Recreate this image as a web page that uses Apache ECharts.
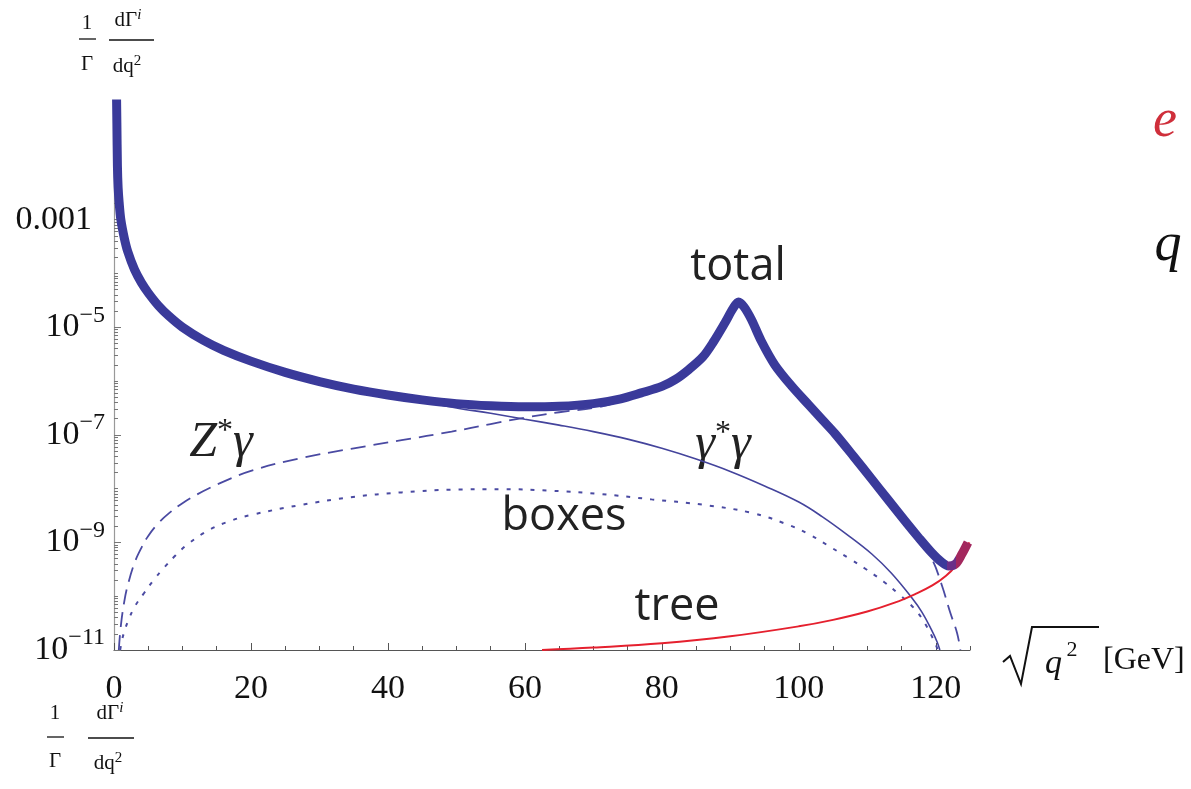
<!DOCTYPE html>
<html>
<head>
<meta charset="utf-8">
<script src="https://cdn.jsdelivr.net/npm/echarts@6/dist/echarts.min.js"></script>
<style>html,body{margin:0;padding:0;background:#fff}#c{width:1191px;height:789px}</style>
</head>
<body>
<div id="c"></div>
<script>
// ---- data: [sqrt(q^2) in GeV, log10 of (1/Gamma dGamma/dq^2)] ----
const total = [[0.3,0],[0.42,-1.2],[0.5,-2.0],[0.6,-2.4],[0.75,-2.68],[1.0,-3.0],[1.5,-3.34],[2.0,-3.59],[3.0,-3.93],[4.0,-4.17],[5.0,-4.36],[6.5,-4.6],[8,-4.79],[10,-5.0],[13,-5.24],[16,-5.43],[20,-5.63],[25,-5.84],[30,-6.01],[35,-6.15],[40,-6.26],[45,-6.35],[50,-6.42],[55,-6.46],[60,-6.48],[65,-6.47],[70,-6.42],[74,-6.33],[77,-6.22],[80,-6.1],[82,-5.97],[84,-5.78],[86,-5.55],[87.5,-5.28],[89.2,-4.92],[90.4,-4.65],[91.2,-4.53],[92.0,-4.62],[93.1,-4.86],[94.5,-5.25],[96.5,-5.7],[99,-6.1],[101.5,-6.45],[103.5,-6.73],[105.3,-6.98],[108,-7.4],[110.7,-7.83],[113,-8.2],[115.5,-8.6],[117.5,-8.91],[119.4,-9.19],[120.8,-9.36],[121.9,-9.44],[122.9,-9.4],[123.8,-9.22],[124.7,-9.0]];
const gammaGamma = [[0.3,0],[0.42,-1.2],[0.5,-2.0],[0.6,-2.4],[0.75,-2.68],[1.0,-3.0],[1.5,-3.34],[2.0,-3.59],[3.0,-3.93],[4.0,-4.17],[5.0,-4.36],[6.5,-4.6],[8,-4.79],[10,-5.0],[13,-5.24],[16,-5.43],[20,-5.63],[25,-5.84],[30,-6.01],[35,-6.15],[40,-6.27],[45,-6.38],[50,-6.5],[55,-6.6],[60,-6.71],[65,-6.82],[70,-6.94],[75,-7.08],[80,-7.25],[85,-7.45],[90,-7.68],[95,-7.95],[100,-8.25],[103.4,-8.52],[107,-8.85],[110.7,-9.22],[113.5,-9.57],[116.5,-10.03],[118,-10.3],[119.4,-10.63],[120.2,-10.85],[120.6,-11.0]];
const zGamma = [[0.7,-11.0],[1.0,-10.55],[1.5,-10.1],[2.0,-9.8],[3.0,-9.38],[4.0,-9.1],[5.0,-8.88],[6.5,-8.64],[8.0,-8.46],[10,-8.27],[13,-8.05],[16,-7.87],[20,-7.67],[27,-7.44],[34.6,-7.26],[42,-7.1],[49.3,-6.94],[55,-6.8],[60,-6.68],[65,-6.58],[71,-6.48],[74,-6.37],[77,-6.26],[80,-6.13],[84,-5.8],[86,-5.57],[87.5,-5.3],[89.2,-4.95],[90.4,-4.68],[91.2,-4.56],[92,-4.65],[93.1,-4.89],[94.5,-5.28],[96.5,-5.73],[99,-6.13],[101.5,-6.48],[103.5,-6.76],[105.3,-7.01],[108,-7.43],[110.7,-7.86],[113,-8.23],[115.5,-8.64],[117.5,-8.96],[119.4,-9.3],[120.9,-9.8],[122.1,-10.3],[123.1,-10.68],[123.6,-11.0]];
const boxes = [[0.9,-11.0],[1.2,-10.8],[1.6,-10.62],[2.0,-10.48],[3.0,-10.2],[4.4,-9.94],[5.8,-9.7],[7.3,-9.47],[9,-9.24],[10.8,-9.03],[14,-8.76],[17,-8.6],[20,-8.49],[27,-8.31],[34.6,-8.16],[42,-8.07],[49.3,-8.02],[56.6,-8.01],[63.9,-8.04],[71,-8.1],[78.5,-8.2],[86,-8.3],[93.1,-8.45],[98,-8.65],[101.5,-8.85],[104.8,-9.1],[107.5,-9.31],[109.6,-9.48],[112.4,-9.73],[114.6,-9.96],[116.8,-10.22],[118.4,-10.5],[119.9,-10.87],[120.3,-11.0]];
const tree = [[62.5,-11.0],[70,-10.955],[80,-10.875],[90,-10.745],[100,-10.56],[105,-10.44],[110,-10.285],[114,-10.12],[117,-9.96],[119.5,-9.8],[121.5,-9.62],[123,-9.42],[124,-9.22],[124.9,-9.0]];

// ---- ticks ----
const xMajor = [0, 20, 40, 60, 80, 100, 120];
const xMinor = [5,10,15,25,30,35,45,50,55,65,70,75,85,90,95,105,110,115,125];
const yMajorExp = [-11, -9, -7, -5, -3];
const yMinorMant = [1,2,3,4,5,6,7,8,9];
const yDecades = [-11,-10,-9,-8,-7,-6,-5,-4,-3,-2,-1];

const toVal = arr => arr.map(p => [p[0], Math.pow(10, p[1])]);
const yMajor = yMajorExp.map(e => Math.pow(10, e));
const yMinor = [];
yDecades.forEach(d => yMinorMant.forEach(m => {
  if (m === 1 && yMajorExp.indexOf(d) >= 0) return;
  const v = m * Math.pow(10, d);
  if (v < 0.14) yMinor.push(v);
}));

const SERIF = 'Liberation Serif';
const yMax = Math.pow(10, -0.85);

const chart = echarts.init(document.getElementById('c'), null, {renderer: 'canvas'});
const option = {
  animation: false,
  backgroundColor: '#fff',
  grid: {left: 114, right: 221, top: 104, bottom: 139, containLabel: false},
  xAxis: [
    {type: 'value', min: 0, max: 125, position: 'bottom',
     axisLine: {show: true, onZero: false, lineStyle: {color: '#555', width: 1.2}},
     axisTick: {show: true, inside: true, length: 7, customValues: xMajor, lineStyle: {color: '#555'}},
     axisLabel: {customValues: xMajor, margin: 22, fontFamily: SERIF, fontSize: 34, color: '#111'},
     splitLine: {show: false}},
    {type: 'value', min: 0, max: 125, position: 'bottom',
     axisLine: {show: false, onZero: false},
     axisTick: {show: true, inside: true, length: 4, customValues: xMinor, lineStyle: {color: '#555'}},
     axisLabel: {show: false}, splitLine: {show: false}}
  ],
  yAxis: [
    {type: 'log', logBase: 10, min: 1e-11, max: yMax, position: 'left',
     axisLine: {show: true, onZero: false, lineStyle: {color: '#999', width: 1.2}},
     axisTick: {show: true, inside: true, length: 7, customValues: yMajor, lineStyle: {color: '#777'}},
     axisLabel: {customValues: yMajor, margin: 9,
       formatter: function (v) {
         const e = Math.round(Math.log10(v));
         if (e === -3) return '{d|0.001}';
         return '{b|10}{s|\u2212' + (-e) + '}';
       },
       rich: {
         b: {fontFamily: SERIF, fontSize: 34, color: '#111', lineHeight: 48},
         d: {fontFamily: SERIF, fontSize: 34, color: '#111', lineHeight: 48, padding: [0, 13, 0, 0]},
         s: {fontFamily: SERIF, fontSize: 24, color: '#111', lineHeight: 24, verticalAlign: 'top'}
       }},
     splitLine: {show: false}},
    {type: 'log', logBase: 10, min: 1e-11, max: yMax, position: 'left', offset: 0,
     axisLine: {show: false, onZero: false},
     axisTick: {show: true, inside: true, length: 4, customValues: yMinor, lineStyle: {color: '#777'}},
     axisLabel: {show: false}, splitLine: {show: false}}
  ],
  visualMap: {type: 'piecewise', show: false, seriesIndex: 4, dimension: 0,
    pieces: [{lt: 121.6, color: '#3a3a9a'}, {gte: 121.6, lt: 123.0, color: '#6a2f88'}, {gte: 123.0, color: '#a3285e'}]},
  series: [
    {name: 'boxes', type: 'line', data: toVal(boxes), showSymbol: false, symbol: 'none', smooth: 0.4, clip: true,
     lineStyle: {color: '#4a4aa2', width: 2, type: [4, 8]}, z: 2},
    {name: 'Zgamma', type: 'line', data: toVal(zGamma), showSymbol: false, symbol: 'none', smooth: 0.4, clip: true,
     lineStyle: {color: '#4a4aa2', width: 1.8, type: [15, 8]}, z: 2},
    {name: 'gammagamma', type: 'line', data: toVal(gammaGamma), showSymbol: false, symbol: 'none', smooth: 0.4, clip: true,
     lineStyle: {color: '#44449c', width: 1.6}, z: 2},
    {name: 'tree', type: 'line', data: toVal(tree), showSymbol: false, symbol: 'none', smooth: 0.4, clip: true,
     lineStyle: {color: '#e5202e', width: 2}, z: 3},
    {name: 'total', type: 'line', data: toVal(total), showSymbol: false, symbol: 'none', smooth: 0.3, clip: true,
     lineStyle: {width: 9, cap: 'butt', join: 'round'}, z: 4}
  ],
  graphic: [
    // top-left axis title
    {type: 'text', x: 87, y: 23, style: {text: '1', font: '21px ' + SERIF, fill: '#111', align: 'center', verticalAlign: 'middle'}},
    {type: 'line', shape: {x1: 79, y1: 39, x2: 96, y2: 39}, style: {stroke: '#111', lineWidth: 1.3}},
    {type: 'text', x: 87, y: 64, style: {text: '\u0393', font: '21px ' + SERIF, fill: '#111', align: 'center', verticalAlign: 'middle'}},
    {type: 'text', x: 128, y: 20, style: {text: '{a|d\u0393}{i|i}', align: 'center', verticalAlign: 'middle',
      rich: {a: {font: '21px ' + SERIF, fill: '#111', lineHeight: 24}, i: {font: 'italic 15px ' + SERIF, fill: '#111', lineHeight: 15, verticalAlign: 'top'}}}},
    {type: 'line', shape: {x1: 109, y1: 40, x2: 154, y2: 40}, style: {stroke: '#111', lineWidth: 1.3}},
    {type: 'text', x: 127, y: 66, style: {text: '{a|dq}{s|2}', align: 'center', verticalAlign: 'middle',
      rich: {a: {font: '21px ' + SERIF, fill: '#111', lineHeight: 24}, s: {font: '15px ' + SERIF, fill: '#111', lineHeight: 15, verticalAlign: 'top'}}}},
    // bottom-left duplicated axis title
    {type: 'text', x: 55, y: 713, style: {text: '1', font: '21px ' + SERIF, fill: '#111', align: 'center', verticalAlign: 'middle'}},
    {type: 'line', shape: {x1: 47, y1: 737, x2: 64, y2: 737}, style: {stroke: '#111', lineWidth: 1.3}},
    {type: 'text', x: 55, y: 761, style: {text: '\u0393', font: '21px ' + SERIF, fill: '#111', align: 'center', verticalAlign: 'middle'}},
    {type: 'text', x: 110, y: 713, style: {text: '{a|d\u0393}{i|i}', align: 'center', verticalAlign: 'middle',
      rich: {a: {font: '21px ' + SERIF, fill: '#111', lineHeight: 24}, i: {font: 'italic 15px ' + SERIF, fill: '#111', lineHeight: 15, verticalAlign: 'top'}}}},
    {type: 'line', shape: {x1: 88, y1: 738, x2: 134, y2: 738}, style: {stroke: '#111', lineWidth: 1.3}},
    {type: 'text', x: 108, y: 763, style: {text: '{a|dq}{s|2}', align: 'center', verticalAlign: 'middle',
      rich: {a: {font: '21px ' + SERIF, fill: '#111', lineHeight: 24}, s: {font: '15px ' + SERIF, fill: '#111', lineHeight: 15, verticalAlign: 'top'}}}},
    // curve labels
    {type: 'text', x: 738, y: 267, style: {text: 'total', font: '45px "Open Sans"', fill: '#222', align: 'center', verticalAlign: 'middle'}},
    {type: 'text', x: 564, y: 517, style: {text: 'boxes', font: '45px "Open Sans"', fill: '#222', align: 'center', verticalAlign: 'middle'}},
    {type: 'text', x: 677, y: 607, style: {text: 'tree', font: '45px "Open Sans"', fill: '#222', align: 'center', verticalAlign: 'middle'}},
    {type: 'text', x: 221, y: 443, style: {text: '{i|Z}{s|*}{i|\u03b3}', align: 'center', verticalAlign: 'middle',
      rich: {i: {font: 'italic 50px ' + SERIF, fill: '#222', lineHeight: 54}, s: {font: '32px ' + SERIF, fill: '#222', lineHeight: 32, verticalAlign: 'top'}}}},
    {type: 'text', x: 723, y: 445, style: {text: '{i|\u03b3}{s|*}{i|\u03b3}', align: 'center', verticalAlign: 'middle',
      rich: {i: {font: 'italic 50px ' + SERIF, fill: '#222', lineHeight: 54}, s: {font: '32px ' + SERIF, fill: '#222', lineHeight: 32, verticalAlign: 'top'}}}},
    // fragments at right edge
    {type: 'text', x: 1165, y: 122, style: {text: 'e', font: 'italic 54px ' + SERIF, fill: '#cf2f3b', align: 'center', verticalAlign: 'middle'}},
    {type: 'text', x: 1168, y: 246, style: {text: 'q', font: 'italic 54px ' + SERIF, fill: '#111', align: 'center', verticalAlign: 'middle'}},
    // x-axis name: sqrt(q^2) [GeV]
    {type: 'polyline', shape: {points: [[1003, 662], [1010, 656], [1021, 684], [1032, 627], [1099, 627]]}, style: {stroke: '#111', lineWidth: 2, fill: null}},
    {type: 'text', x: 1045, y: 681, style: {text: 'q', font: 'italic 34px ' + SERIF, fill: '#111', align: 'left', verticalAlign: 'bottom'}},
    {type: 'text', x: 1072, y: 650, style: {text: '2', font: '22px ' + SERIF, fill: '#111', align: 'center', verticalAlign: 'middle'}},
    {type: 'text', x: 1103, y: 661, style: {text: '[GeV]', font: '32px ' + SERIF, fill: '#111', align: 'left', verticalAlign: 'middle'}}
  ]
};
chart.setOption(option);
</script>
</body>
</html>
